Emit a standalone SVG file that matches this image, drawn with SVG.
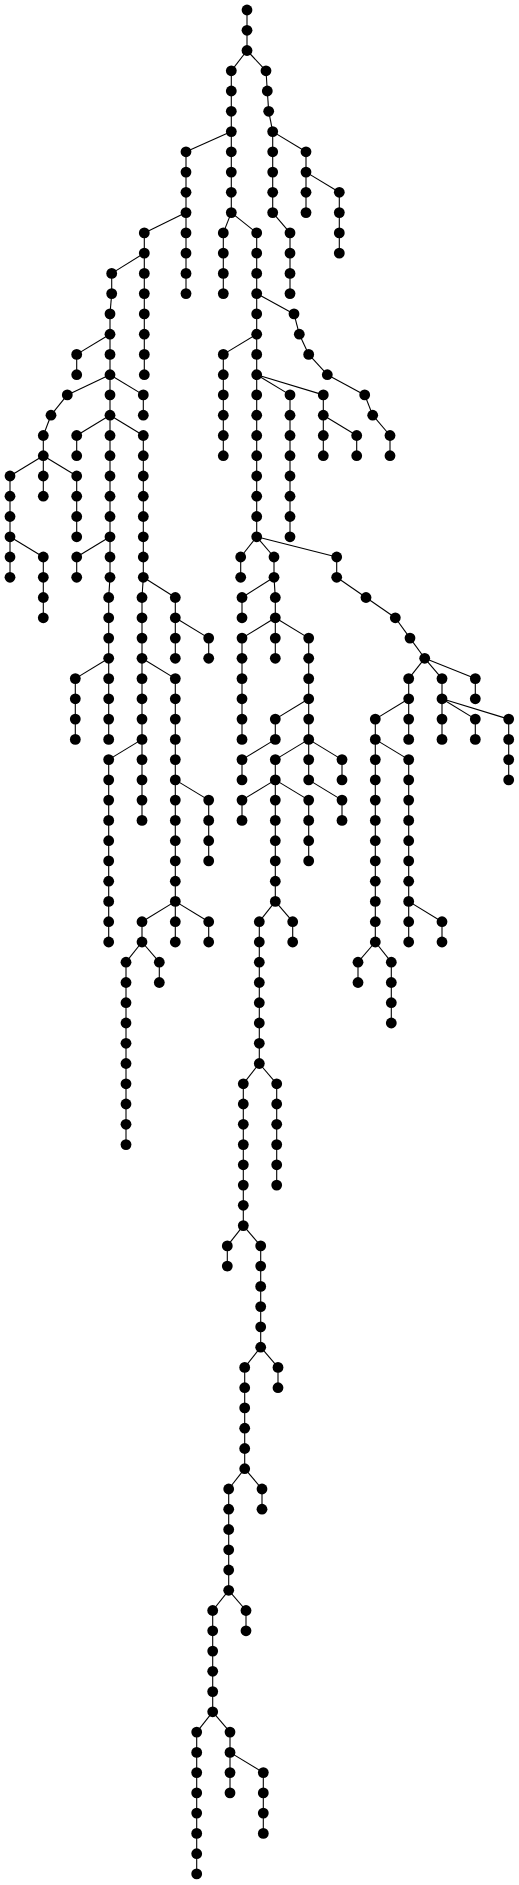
<svg xmlns="http://www.w3.org/2000/svg" width="519" height="1885" viewBox="0 0 519 1885">
<style>#edges path{stroke:#000;stroke-width:1.1;fill:none}#nodes circle{fill:#000}</style>
<rect width="519" height="1885" fill="#fff"/>
<g id="edges">
<path d="M247 10V50.5"/><path d="M231.3 70.8V212.6"/><path d="M272.7 131.6V212.6"/><path d="M290 232.9V293.6"/><path d="M306 151.8V212.6"/><path d="M339.3 192.3V253.1"/><path d="M186 151.8V293.6"/><path d="M144.3 232.9V374.7"/><path d="M111.7 273.4V293.6"/><path d="M110 313.9V577.3"/><path d="M76.7 354.4V374.7"/><path d="M43.3 435.5V496.2"/><path d="M143.3 394.9V415.2"/><path d="M10 476V577.3"/><path d="M76.7 476V536.8"/><path d="M43.3 557V617.8"/><path d="M76.7 435.5V455.7"/><path d="M143.3 435.5V577.3"/><path d="M76.7 557V577.3"/><path d="M108.7 597.5V739.4"/><path d="M142 597.5V820.4"/><path d="M175.3 597.5V658.3"/><path d="M208.7 638.1V658.3"/><path d="M75.3 678.6V739.4"/><path d="M175.3 678.6V942"/><path d="M108.7 759.6V942"/><path d="M208.7 800.1V860.9"/><path d="M142 921.7V942"/><path d="M208.7 921.7V942"/><path d="M126 962.2V1144.6"/><path d="M159.3 962.2V982.5"/><path d="M223.3 232.9V293.6"/><path d="M256.7 232.9V536.8"/><path d="M390 435.5V455.7"/><path d="M223.3 354.4V455.7"/><path d="M290 394.9V536.8"/><path d="M323.3 394.9V455.7"/><path d="M356.7 435.5V455.7"/><path d="M240.7 557V577.3"/><path d="M274 557V577.3"/><path d="M336.7 557V577.3"/><path d="M242 597.5V617.8"/><path d="M275.3 597.5V658.3"/><path d="M242 638.1V739.4"/><path d="M308.7 638.1V779.9"/><path d="M275.3 719.1V739.4"/><path d="M242 759.6V779.9"/><path d="M275.3 759.6V901.4"/><path d="M342 759.6V779.9"/><path d="M342 800.1V820.4"/><path d="M242 800.1V820.4"/><path d="M308.7 800.1V860.9"/><path d="M259.3 921.7V1063.5"/><path d="M292.7 921.7V942"/><path d="M243.3 1083.8V1225.6"/><path d="M276.7 1083.8V1185.1"/><path d="M227.3 1245.9V1266.1"/><path d="M260.7 1245.9V1347.2"/><path d="M244.7 1367.4V1468.7"/><path d="M278 1367.4V1387.7"/><path d="M228.7 1489V1590.3"/><path d="M262 1489V1509.2"/><path d="M212.7 1610.5V1711.8"/><path d="M246 1610.5V1630.8"/><path d="M196.7 1732.1V1873.9"/><path d="M230 1732.1V1792.9"/><path d="M263.3 1772.6V1833.4"/><path d="M408.7 678.6V739.4"/><path d="M442 678.6V739.4"/><path d="M475.3 678.6V698.8"/><path d="M375.3 719.1V942"/><path d="M475.3 719.1V739.4"/><path d="M508.7 719.1V779.9"/><path d="M408.7 759.6V942"/><path d="M442 921.7V942"/><path d="M358 962.2V982.5"/><path d="M391.3 962.2V1023"/>
<path d="M247 50.5L231.3 70.8"/><path d="M247 50.5L266 70.8"/><path d="M266 70.8L267.3 91"/><path d="M267.3 91L268.7 111.3"/><path d="M268.7 111.3L272.7 131.6"/><path d="M231.3 131.6L186 151.8"/><path d="M272.7 131.6L306 151.8"/><path d="M306 172.1L339.3 192.3"/><path d="M272.7 212.6L290 232.9"/><path d="M186 212.6L144.3 232.9"/><path d="M231.3 212.6L223.3 232.9"/><path d="M231.3 212.6L256.7 232.9"/><path d="M144.3 253.1L111.7 273.4"/><path d="M111.7 293.6L110 313.9"/><path d="M256.7 293.6L294 313.9"/><path d="M294 313.9L299.3 334.2"/><path d="M299.3 334.2L308.7 354.4"/><path d="M308.7 354.4L327.3 374.7"/><path d="M327.3 374.7L364.7 394.9"/><path d="M364.7 394.9L372.7 415.2"/><path d="M372.7 415.2L390 435.5"/><path d="M110 334.2L76.7 354.4"/><path d="M256.7 334.2L223.3 354.4"/><path d="M110 374.7L67.3 394.9"/><path d="M110 374.7L143.3 394.9"/><path d="M256.7 374.7L290 394.9"/><path d="M256.7 374.7L323.3 394.9"/><path d="M67.3 394.9L51 415.2"/><path d="M51 415.2L43.3 435.5"/><path d="M110 415.2L76.7 435.5"/><path d="M110 415.2L143.3 435.5"/><path d="M323.3 415.2L356.7 435.5"/><path d="M43.3 455.7L10 476"/><path d="M43.3 455.7L76.7 476"/><path d="M10 536.8L43.3 557"/><path d="M110 536.8L76.7 557"/><path d="M256.7 536.8L240.7 557"/><path d="M256.7 536.8L274 557"/><path d="M256.7 536.8L336.7 557"/><path d="M110 577.3L108.7 597.5"/><path d="M143.3 577.3L142 597.5"/><path d="M143.3 577.3L175.3 597.5"/><path d="M274 577.3L242 597.5"/><path d="M274 577.3L275.3 597.5"/><path d="M336.7 577.3L366 597.5"/><path d="M366 597.5L395.3 617.8"/><path d="M175.3 617.8L208.7 638.1"/><path d="M275.3 617.8L242 638.1"/><path d="M275.3 617.8L308.7 638.1"/><path d="M395.3 617.8L410 638.1"/><path d="M410 638.1L424.7 658.3"/><path d="M108.7 658.3L75.3 678.6"/><path d="M142 658.3L175.3 678.6"/><path d="M424.7 658.3L408.7 678.6"/><path d="M424.7 658.3L442 678.6"/><path d="M424.7 658.3L475.3 678.6"/><path d="M308.7 698.8L275.3 719.1"/><path d="M408.7 698.8L375.3 719.1"/><path d="M442 698.8L475.3 719.1"/><path d="M442 698.8L508.7 719.1"/><path d="M142 739.4L108.7 759.6"/><path d="M275.3 739.4L242 759.6"/><path d="M308.7 739.4L275.3 759.6"/><path d="M308.7 739.4L342 759.6"/><path d="M375.3 739.4L408.7 759.6"/><path d="M175.3 779.9L208.7 800.1"/><path d="M275.3 779.9L242 800.1"/><path d="M275.3 779.9L308.7 800.1"/><path d="M308.7 779.9L342 800.1"/><path d="M175.3 901.4L142 921.7"/><path d="M175.3 901.4L208.7 921.7"/><path d="M275.3 901.4L259.3 921.7"/><path d="M275.3 901.4L292.7 921.7"/><path d="M408.7 901.4L442 921.7"/><path d="M142 942L126 962.2"/><path d="M142 942L159.3 962.2"/><path d="M375.3 942L358 962.2"/><path d="M375.3 942L391.3 962.2"/><path d="M259.3 1063.5L243.3 1083.8"/><path d="M259.3 1063.5L276.7 1083.8"/><path d="M243.3 1225.6L227.3 1245.9"/><path d="M243.3 1225.6L260.7 1245.9"/><path d="M260.7 1347.2L244.7 1367.4"/><path d="M260.7 1347.2L278 1367.4"/><path d="M244.7 1468.7L228.7 1489"/><path d="M244.7 1468.7L262 1489"/><path d="M228.7 1590.3L212.7 1610.5"/><path d="M228.7 1590.3L246 1610.5"/><path d="M212.7 1711.8L196.7 1732.1"/><path d="M212.7 1711.8L230 1732.1"/><path d="M230 1752.4L263.3 1772.6"/>
</g>
<g id="nodes">
<g id="n1"><circle cx="247" cy="10" r="5.4"/></g>
<g id="n2"><circle cx="247" cy="30.3" r="5.4"/></g>
<g id="n3"><circle cx="247" cy="50.5" r="5.4"/></g>
<g id="n4"><circle cx="231.3" cy="70.8" r="5.4"/></g>
<g id="n5"><circle cx="231.3" cy="91" r="5.4"/></g>
<g id="n6"><circle cx="231.3" cy="111.3" r="5.4"/></g>
<g id="n7"><circle cx="231.3" cy="131.6" r="5.4"/></g>
<g id="n8"><circle cx="231.3" cy="151.8" r="5.4"/></g>
<g id="n9"><circle cx="231.3" cy="172.1" r="5.4"/></g>
<g id="n10"><circle cx="231.3" cy="192.3" r="5.4"/></g>
<g id="n11"><circle cx="231.3" cy="212.6" r="5.4"/></g>
<g id="n12"><circle cx="266" cy="70.8" r="5.4"/></g>
<g id="n13"><circle cx="267.3" cy="91" r="5.4"/></g>
<g id="n14"><circle cx="268.7" cy="111.3" r="5.4"/></g>
<g id="n15"><circle cx="272.7" cy="131.6" r="5.4"/></g>
<g id="n16"><circle cx="272.7" cy="151.8" r="5.4"/></g>
<g id="n17"><circle cx="272.7" cy="172.1" r="5.4"/></g>
<g id="n18"><circle cx="272.7" cy="192.3" r="5.4"/></g>
<g id="n19"><circle cx="272.7" cy="212.6" r="5.4"/></g>
<g id="n20"><circle cx="290" cy="232.9" r="5.4"/></g>
<g id="n21"><circle cx="290" cy="253.1" r="5.4"/></g>
<g id="n22"><circle cx="290" cy="273.4" r="5.4"/></g>
<g id="n23"><circle cx="290" cy="293.6" r="5.4"/></g>
<g id="n24"><circle cx="306" cy="151.8" r="5.4"/></g>
<g id="n25"><circle cx="306" cy="172.1" r="5.4"/></g>
<g id="n26"><circle cx="306" cy="192.3" r="5.4"/></g>
<g id="n27"><circle cx="306" cy="212.6" r="5.4"/></g>
<g id="n28"><circle cx="339.3" cy="192.3" r="5.4"/></g>
<g id="n29"><circle cx="339.3" cy="212.6" r="5.4"/></g>
<g id="n30"><circle cx="339.3" cy="232.9" r="5.4"/></g>
<g id="n31"><circle cx="339.3" cy="253.1" r="5.4"/></g>
<g id="n32"><circle cx="186" cy="151.8" r="5.4"/></g>
<g id="n33"><circle cx="186" cy="172.1" r="5.4"/></g>
<g id="n34"><circle cx="186" cy="192.3" r="5.4"/></g>
<g id="n35"><circle cx="186" cy="212.6" r="5.4"/></g>
<g id="n36"><circle cx="186" cy="232.9" r="5.4"/></g>
<g id="n37"><circle cx="186" cy="253.1" r="5.4"/></g>
<g id="n38"><circle cx="186" cy="273.4" r="5.4"/></g>
<g id="n39"><circle cx="186" cy="293.6" r="5.4"/></g>
<g id="n40"><circle cx="144.3" cy="232.9" r="5.4"/></g>
<g id="n41"><circle cx="144.3" cy="253.1" r="5.4"/></g>
<g id="n42"><circle cx="144.3" cy="273.4" r="5.4"/></g>
<g id="n43"><circle cx="144.3" cy="293.6" r="5.4"/></g>
<g id="n44"><circle cx="144.3" cy="313.9" r="5.4"/></g>
<g id="n45"><circle cx="144.3" cy="334.2" r="5.4"/></g>
<g id="n46"><circle cx="144.3" cy="354.4" r="5.4"/></g>
<g id="n47"><circle cx="144.3" cy="374.7" r="5.4"/></g>
<g id="n48"><circle cx="111.7" cy="273.4" r="5.4"/></g>
<g id="n49"><circle cx="111.7" cy="293.6" r="5.4"/></g>
<g id="n50"><circle cx="110" cy="313.9" r="5.4"/></g>
<g id="n51"><circle cx="110" cy="334.2" r="5.4"/></g>
<g id="n52"><circle cx="110" cy="354.4" r="5.4"/></g>
<g id="n53"><circle cx="110" cy="374.7" r="5.4"/></g>
<g id="n54"><circle cx="110" cy="394.9" r="5.4"/></g>
<g id="n55"><circle cx="110" cy="415.2" r="5.4"/></g>
<g id="n56"><circle cx="110" cy="435.5" r="5.4"/></g>
<g id="n57"><circle cx="110" cy="455.7" r="5.4"/></g>
<g id="n58"><circle cx="110" cy="476" r="5.4"/></g>
<g id="n59"><circle cx="110" cy="496.2" r="5.4"/></g>
<g id="n60"><circle cx="110" cy="516.5" r="5.4"/></g>
<g id="n61"><circle cx="110" cy="536.8" r="5.4"/></g>
<g id="n62"><circle cx="110" cy="557" r="5.4"/></g>
<g id="n63"><circle cx="110" cy="577.3" r="5.4"/></g>
<g id="n64"><circle cx="76.7" cy="354.4" r="5.4"/></g>
<g id="n65"><circle cx="76.7" cy="374.7" r="5.4"/></g>
<g id="n66"><circle cx="67.3" cy="394.9" r="5.4"/></g>
<g id="n67"><circle cx="51" cy="415.2" r="5.4"/></g>
<g id="n68"><circle cx="43.3" cy="435.5" r="5.4"/></g>
<g id="n69"><circle cx="43.3" cy="455.7" r="5.4"/></g>
<g id="n70"><circle cx="43.3" cy="476" r="5.4"/></g>
<g id="n71"><circle cx="43.3" cy="496.2" r="5.4"/></g>
<g id="n72"><circle cx="143.3" cy="394.9" r="5.4"/></g>
<g id="n73"><circle cx="143.3" cy="415.2" r="5.4"/></g>
<g id="n74"><circle cx="10" cy="476" r="5.4"/></g>
<g id="n75"><circle cx="10" cy="496.2" r="5.4"/></g>
<g id="n76"><circle cx="10" cy="516.5" r="5.4"/></g>
<g id="n77"><circle cx="10" cy="536.8" r="5.4"/></g>
<g id="n78"><circle cx="10" cy="557" r="5.4"/></g>
<g id="n79"><circle cx="10" cy="577.3" r="5.4"/></g>
<g id="n80"><circle cx="76.7" cy="476" r="5.4"/></g>
<g id="n81"><circle cx="76.7" cy="496.2" r="5.4"/></g>
<g id="n82"><circle cx="76.7" cy="516.5" r="5.4"/></g>
<g id="n83"><circle cx="76.7" cy="536.8" r="5.4"/></g>
<g id="n84"><circle cx="43.3" cy="557" r="5.4"/></g>
<g id="n85"><circle cx="43.3" cy="577.3" r="5.4"/></g>
<g id="n86"><circle cx="43.3" cy="597.5" r="5.4"/></g>
<g id="n87"><circle cx="43.3" cy="617.8" r="5.4"/></g>
<g id="n88"><circle cx="76.7" cy="435.5" r="5.4"/></g>
<g id="n89"><circle cx="76.7" cy="455.7" r="5.4"/></g>
<g id="n90"><circle cx="143.3" cy="435.5" r="5.4"/></g>
<g id="n91"><circle cx="143.3" cy="455.7" r="5.4"/></g>
<g id="n92"><circle cx="143.3" cy="476" r="5.4"/></g>
<g id="n93"><circle cx="143.3" cy="496.2" r="5.4"/></g>
<g id="n94"><circle cx="143.3" cy="516.5" r="5.4"/></g>
<g id="n95"><circle cx="143.3" cy="536.8" r="5.4"/></g>
<g id="n96"><circle cx="143.3" cy="557" r="5.4"/></g>
<g id="n97"><circle cx="143.3" cy="577.3" r="5.4"/></g>
<g id="n98"><circle cx="76.7" cy="557" r="5.4"/></g>
<g id="n99"><circle cx="76.7" cy="577.3" r="5.4"/></g>
<g id="n100"><circle cx="108.7" cy="597.5" r="5.4"/></g>
<g id="n101"><circle cx="108.7" cy="617.8" r="5.4"/></g>
<g id="n102"><circle cx="108.7" cy="638.1" r="5.4"/></g>
<g id="n103"><circle cx="108.7" cy="658.3" r="5.4"/></g>
<g id="n104"><circle cx="108.7" cy="678.6" r="5.4"/></g>
<g id="n105"><circle cx="108.7" cy="698.8" r="5.4"/></g>
<g id="n106"><circle cx="108.7" cy="719.1" r="5.4"/></g>
<g id="n107"><circle cx="108.7" cy="739.4" r="5.4"/></g>
<g id="n108"><circle cx="142" cy="597.5" r="5.4"/></g>
<g id="n109"><circle cx="142" cy="617.8" r="5.4"/></g>
<g id="n110"><circle cx="142" cy="638.1" r="5.4"/></g>
<g id="n111"><circle cx="142" cy="658.3" r="5.4"/></g>
<g id="n112"><circle cx="142" cy="678.6" r="5.4"/></g>
<g id="n113"><circle cx="142" cy="698.8" r="5.4"/></g>
<g id="n114"><circle cx="142" cy="719.1" r="5.4"/></g>
<g id="n115"><circle cx="142" cy="739.4" r="5.4"/></g>
<g id="n116"><circle cx="142" cy="759.6" r="5.4"/></g>
<g id="n117"><circle cx="142" cy="779.9" r="5.4"/></g>
<g id="n118"><circle cx="142" cy="800.1" r="5.4"/></g>
<g id="n119"><circle cx="142" cy="820.4" r="5.4"/></g>
<g id="n120"><circle cx="175.3" cy="597.5" r="5.4"/></g>
<g id="n121"><circle cx="175.3" cy="617.8" r="5.4"/></g>
<g id="n122"><circle cx="175.3" cy="638.1" r="5.4"/></g>
<g id="n123"><circle cx="175.3" cy="658.3" r="5.4"/></g>
<g id="n124"><circle cx="208.7" cy="638.1" r="5.4"/></g>
<g id="n125"><circle cx="208.7" cy="658.3" r="5.4"/></g>
<g id="n126"><circle cx="75.3" cy="678.6" r="5.4"/></g>
<g id="n127"><circle cx="75.3" cy="698.8" r="5.4"/></g>
<g id="n128"><circle cx="75.3" cy="719.1" r="5.4"/></g>
<g id="n129"><circle cx="75.3" cy="739.4" r="5.4"/></g>
<g id="n130"><circle cx="175.3" cy="678.6" r="5.4"/></g>
<g id="n131"><circle cx="175.3" cy="698.8" r="5.4"/></g>
<g id="n132"><circle cx="175.3" cy="719.1" r="5.4"/></g>
<g id="n133"><circle cx="175.3" cy="739.4" r="5.4"/></g>
<g id="n134"><circle cx="175.3" cy="759.6" r="5.4"/></g>
<g id="n135"><circle cx="175.3" cy="779.9" r="5.4"/></g>
<g id="n136"><circle cx="175.3" cy="800.1" r="5.4"/></g>
<g id="n137"><circle cx="175.3" cy="820.4" r="5.4"/></g>
<g id="n138"><circle cx="175.3" cy="840.7" r="5.4"/></g>
<g id="n139"><circle cx="175.3" cy="860.9" r="5.4"/></g>
<g id="n140"><circle cx="175.3" cy="881.2" r="5.4"/></g>
<g id="n141"><circle cx="175.3" cy="901.4" r="5.4"/></g>
<g id="n142"><circle cx="175.3" cy="921.7" r="5.4"/></g>
<g id="n143"><circle cx="175.3" cy="942" r="5.4"/></g>
<g id="n144"><circle cx="108.7" cy="759.6" r="5.4"/></g>
<g id="n145"><circle cx="108.7" cy="779.9" r="5.4"/></g>
<g id="n146"><circle cx="108.7" cy="800.1" r="5.4"/></g>
<g id="n147"><circle cx="108.7" cy="820.4" r="5.4"/></g>
<g id="n148"><circle cx="108.7" cy="840.7" r="5.4"/></g>
<g id="n149"><circle cx="108.7" cy="860.9" r="5.4"/></g>
<g id="n150"><circle cx="108.7" cy="881.2" r="5.4"/></g>
<g id="n151"><circle cx="108.7" cy="901.4" r="5.4"/></g>
<g id="n152"><circle cx="108.7" cy="921.7" r="5.4"/></g>
<g id="n153"><circle cx="108.7" cy="942" r="5.4"/></g>
<g id="n154"><circle cx="208.7" cy="800.1" r="5.4"/></g>
<g id="n155"><circle cx="208.7" cy="820.4" r="5.4"/></g>
<g id="n156"><circle cx="208.7" cy="840.7" r="5.4"/></g>
<g id="n157"><circle cx="208.7" cy="860.9" r="5.4"/></g>
<g id="n158"><circle cx="142" cy="921.7" r="5.4"/></g>
<g id="n159"><circle cx="142" cy="942" r="5.4"/></g>
<g id="n160"><circle cx="208.7" cy="921.7" r="5.4"/></g>
<g id="n161"><circle cx="208.7" cy="942" r="5.4"/></g>
<g id="n162"><circle cx="126" cy="962.2" r="5.4"/></g>
<g id="n163"><circle cx="126" cy="982.5" r="5.4"/></g>
<g id="n164"><circle cx="126" cy="1002.7" r="5.4"/></g>
<g id="n165"><circle cx="126" cy="1023" r="5.4"/></g>
<g id="n166"><circle cx="126" cy="1043.3" r="5.4"/></g>
<g id="n167"><circle cx="126" cy="1063.5" r="5.4"/></g>
<g id="n168"><circle cx="126" cy="1083.8" r="5.4"/></g>
<g id="n169"><circle cx="126" cy="1104" r="5.4"/></g>
<g id="n170"><circle cx="126" cy="1124.3" r="5.4"/></g>
<g id="n171"><circle cx="126" cy="1144.6" r="5.4"/></g>
<g id="n172"><circle cx="159.3" cy="962.2" r="5.4"/></g>
<g id="n173"><circle cx="159.3" cy="982.5" r="5.4"/></g>
<g id="n174"><circle cx="223.3" cy="232.9" r="5.4"/></g>
<g id="n175"><circle cx="223.3" cy="253.1" r="5.4"/></g>
<g id="n176"><circle cx="223.3" cy="273.4" r="5.4"/></g>
<g id="n177"><circle cx="223.3" cy="293.6" r="5.4"/></g>
<g id="n178"><circle cx="256.7" cy="232.9" r="5.4"/></g>
<g id="n179"><circle cx="256.7" cy="253.1" r="5.4"/></g>
<g id="n180"><circle cx="256.7" cy="273.4" r="5.4"/></g>
<g id="n181"><circle cx="256.7" cy="293.6" r="5.4"/></g>
<g id="n182"><circle cx="256.7" cy="313.9" r="5.4"/></g>
<g id="n183"><circle cx="256.7" cy="334.2" r="5.4"/></g>
<g id="n184"><circle cx="256.7" cy="354.4" r="5.4"/></g>
<g id="n185"><circle cx="256.7" cy="374.7" r="5.4"/></g>
<g id="n186"><circle cx="256.7" cy="394.9" r="5.4"/></g>
<g id="n187"><circle cx="256.7" cy="415.2" r="5.4"/></g>
<g id="n188"><circle cx="256.7" cy="435.5" r="5.4"/></g>
<g id="n189"><circle cx="256.7" cy="455.7" r="5.4"/></g>
<g id="n190"><circle cx="256.7" cy="476" r="5.4"/></g>
<g id="n191"><circle cx="256.7" cy="496.2" r="5.4"/></g>
<g id="n192"><circle cx="256.7" cy="516.5" r="5.4"/></g>
<g id="n193"><circle cx="256.7" cy="536.8" r="5.4"/></g>
<g id="n194"><circle cx="294" cy="313.9" r="5.4"/></g>
<g id="n195"><circle cx="299.3" cy="334.2" r="5.4"/></g>
<g id="n196"><circle cx="308.7" cy="354.4" r="5.4"/></g>
<g id="n197"><circle cx="327.3" cy="374.7" r="5.4"/></g>
<g id="n198"><circle cx="364.7" cy="394.9" r="5.4"/></g>
<g id="n199"><circle cx="372.7" cy="415.2" r="5.4"/></g>
<g id="n200"><circle cx="390" cy="435.5" r="5.4"/></g>
<g id="n201"><circle cx="390" cy="455.7" r="5.4"/></g>
<g id="n202"><circle cx="223.3" cy="354.4" r="5.4"/></g>
<g id="n203"><circle cx="223.3" cy="374.7" r="5.4"/></g>
<g id="n204"><circle cx="223.3" cy="394.9" r="5.4"/></g>
<g id="n205"><circle cx="223.3" cy="415.2" r="5.4"/></g>
<g id="n206"><circle cx="223.3" cy="435.5" r="5.4"/></g>
<g id="n207"><circle cx="223.3" cy="455.7" r="5.4"/></g>
<g id="n208"><circle cx="290" cy="394.9" r="5.4"/></g>
<g id="n209"><circle cx="290" cy="415.2" r="5.4"/></g>
<g id="n210"><circle cx="290" cy="435.5" r="5.4"/></g>
<g id="n211"><circle cx="290" cy="455.7" r="5.4"/></g>
<g id="n212"><circle cx="290" cy="476" r="5.4"/></g>
<g id="n213"><circle cx="290" cy="496.2" r="5.4"/></g>
<g id="n214"><circle cx="290" cy="516.5" r="5.4"/></g>
<g id="n215"><circle cx="290" cy="536.8" r="5.4"/></g>
<g id="n216"><circle cx="323.3" cy="394.9" r="5.4"/></g>
<g id="n217"><circle cx="323.3" cy="415.2" r="5.4"/></g>
<g id="n218"><circle cx="323.3" cy="435.5" r="5.4"/></g>
<g id="n219"><circle cx="323.3" cy="455.7" r="5.4"/></g>
<g id="n220"><circle cx="356.7" cy="435.5" r="5.4"/></g>
<g id="n221"><circle cx="356.7" cy="455.7" r="5.4"/></g>
<g id="n222"><circle cx="240.7" cy="557" r="5.4"/></g>
<g id="n223"><circle cx="240.7" cy="577.3" r="5.4"/></g>
<g id="n224"><circle cx="274" cy="557" r="5.4"/></g>
<g id="n225"><circle cx="274" cy="577.3" r="5.4"/></g>
<g id="n226"><circle cx="336.7" cy="557" r="5.4"/></g>
<g id="n227"><circle cx="336.7" cy="577.3" r="5.4"/></g>
<g id="n228"><circle cx="242" cy="597.5" r="5.4"/></g>
<g id="n229"><circle cx="242" cy="617.8" r="5.4"/></g>
<g id="n230"><circle cx="275.3" cy="597.5" r="5.4"/></g>
<g id="n231"><circle cx="275.3" cy="617.8" r="5.4"/></g>
<g id="n232"><circle cx="275.3" cy="638.1" r="5.4"/></g>
<g id="n233"><circle cx="275.3" cy="658.3" r="5.4"/></g>
<g id="n234"><circle cx="242" cy="638.1" r="5.4"/></g>
<g id="n235"><circle cx="242" cy="658.3" r="5.4"/></g>
<g id="n236"><circle cx="242" cy="678.6" r="5.4"/></g>
<g id="n237"><circle cx="242" cy="698.8" r="5.4"/></g>
<g id="n238"><circle cx="242" cy="719.1" r="5.4"/></g>
<g id="n239"><circle cx="242" cy="739.4" r="5.4"/></g>
<g id="n240"><circle cx="308.7" cy="638.1" r="5.4"/></g>
<g id="n241"><circle cx="308.7" cy="658.3" r="5.4"/></g>
<g id="n242"><circle cx="308.7" cy="678.6" r="5.4"/></g>
<g id="n243"><circle cx="308.7" cy="698.8" r="5.4"/></g>
<g id="n244"><circle cx="308.7" cy="719.1" r="5.4"/></g>
<g id="n245"><circle cx="308.7" cy="739.4" r="5.4"/></g>
<g id="n246"><circle cx="308.7" cy="759.6" r="5.4"/></g>
<g id="n247"><circle cx="308.7" cy="779.9" r="5.4"/></g>
<g id="n248"><circle cx="275.3" cy="719.1" r="5.4"/></g>
<g id="n249"><circle cx="275.3" cy="739.4" r="5.4"/></g>
<g id="n250"><circle cx="242" cy="759.6" r="5.4"/></g>
<g id="n251"><circle cx="242" cy="779.9" r="5.4"/></g>
<g id="n252"><circle cx="275.3" cy="759.6" r="5.4"/></g>
<g id="n253"><circle cx="275.3" cy="779.9" r="5.4"/></g>
<g id="n254"><circle cx="275.3" cy="800.1" r="5.4"/></g>
<g id="n255"><circle cx="275.3" cy="820.4" r="5.4"/></g>
<g id="n256"><circle cx="275.3" cy="840.7" r="5.4"/></g>
<g id="n257"><circle cx="275.3" cy="860.9" r="5.4"/></g>
<g id="n258"><circle cx="275.3" cy="881.2" r="5.4"/></g>
<g id="n259"><circle cx="275.3" cy="901.4" r="5.4"/></g>
<g id="n260"><circle cx="342" cy="759.6" r="5.4"/></g>
<g id="n261"><circle cx="342" cy="779.9" r="5.4"/></g>
<g id="n262"><circle cx="342" cy="800.1" r="5.4"/></g>
<g id="n263"><circle cx="342" cy="820.4" r="5.4"/></g>
<g id="n264"><circle cx="242" cy="800.1" r="5.4"/></g>
<g id="n265"><circle cx="242" cy="820.4" r="5.4"/></g>
<g id="n266"><circle cx="308.7" cy="800.1" r="5.4"/></g>
<g id="n267"><circle cx="308.7" cy="820.4" r="5.4"/></g>
<g id="n268"><circle cx="308.7" cy="840.7" r="5.4"/></g>
<g id="n269"><circle cx="308.7" cy="860.9" r="5.4"/></g>
<g id="n270"><circle cx="259.3" cy="921.7" r="5.4"/></g>
<g id="n271"><circle cx="259.3" cy="942" r="5.4"/></g>
<g id="n272"><circle cx="259.3" cy="962.2" r="5.4"/></g>
<g id="n273"><circle cx="259.3" cy="982.5" r="5.4"/></g>
<g id="n274"><circle cx="259.3" cy="1002.7" r="5.4"/></g>
<g id="n275"><circle cx="259.3" cy="1023" r="5.4"/></g>
<g id="n276"><circle cx="259.3" cy="1043.3" r="5.4"/></g>
<g id="n277"><circle cx="259.3" cy="1063.5" r="5.4"/></g>
<g id="n278"><circle cx="292.7" cy="921.7" r="5.4"/></g>
<g id="n279"><circle cx="292.7" cy="942" r="5.4"/></g>
<g id="n280"><circle cx="243.3" cy="1083.8" r="5.4"/></g>
<g id="n281"><circle cx="243.3" cy="1104" r="5.4"/></g>
<g id="n282"><circle cx="243.3" cy="1124.3" r="5.4"/></g>
<g id="n283"><circle cx="243.3" cy="1144.6" r="5.4"/></g>
<g id="n284"><circle cx="243.3" cy="1164.8" r="5.4"/></g>
<g id="n285"><circle cx="243.3" cy="1185.1" r="5.4"/></g>
<g id="n286"><circle cx="243.3" cy="1205.3" r="5.4"/></g>
<g id="n287"><circle cx="243.3" cy="1225.6" r="5.4"/></g>
<g id="n288"><circle cx="276.7" cy="1083.8" r="5.4"/></g>
<g id="n289"><circle cx="276.7" cy="1104" r="5.4"/></g>
<g id="n290"><circle cx="276.7" cy="1124.3" r="5.4"/></g>
<g id="n291"><circle cx="276.7" cy="1144.6" r="5.4"/></g>
<g id="n292"><circle cx="276.7" cy="1164.8" r="5.4"/></g>
<g id="n293"><circle cx="276.7" cy="1185.1" r="5.4"/></g>
<g id="n294"><circle cx="227.3" cy="1245.9" r="5.4"/></g>
<g id="n295"><circle cx="227.3" cy="1266.1" r="5.4"/></g>
<g id="n296"><circle cx="260.7" cy="1245.9" r="5.4"/></g>
<g id="n297"><circle cx="260.7" cy="1266.1" r="5.4"/></g>
<g id="n298"><circle cx="260.7" cy="1286.4" r="5.4"/></g>
<g id="n299"><circle cx="260.7" cy="1306.6" r="5.4"/></g>
<g id="n300"><circle cx="260.7" cy="1326.9" r="5.4"/></g>
<g id="n301"><circle cx="260.7" cy="1347.2" r="5.4"/></g>
<g id="n302"><circle cx="244.7" cy="1367.4" r="5.4"/></g>
<g id="n303"><circle cx="244.7" cy="1387.7" r="5.4"/></g>
<g id="n304"><circle cx="244.7" cy="1407.9" r="5.4"/></g>
<g id="n305"><circle cx="244.7" cy="1428.2" r="5.4"/></g>
<g id="n306"><circle cx="244.7" cy="1448.5" r="5.4"/></g>
<g id="n307"><circle cx="244.7" cy="1468.7" r="5.4"/></g>
<g id="n308"><circle cx="278" cy="1367.4" r="5.4"/></g>
<g id="n309"><circle cx="278" cy="1387.7" r="5.4"/></g>
<g id="n310"><circle cx="228.7" cy="1489" r="5.4"/></g>
<g id="n311"><circle cx="228.7" cy="1509.2" r="5.4"/></g>
<g id="n312"><circle cx="228.7" cy="1529.5" r="5.4"/></g>
<g id="n313"><circle cx="228.7" cy="1549.8" r="5.4"/></g>
<g id="n314"><circle cx="228.7" cy="1570" r="5.4"/></g>
<g id="n315"><circle cx="228.7" cy="1590.3" r="5.4"/></g>
<g id="n316"><circle cx="262" cy="1489" r="5.4"/></g>
<g id="n317"><circle cx="262" cy="1509.2" r="5.4"/></g>
<g id="n318"><circle cx="212.7" cy="1610.5" r="5.4"/></g>
<g id="n319"><circle cx="212.7" cy="1630.8" r="5.4"/></g>
<g id="n320"><circle cx="212.7" cy="1651.1" r="5.4"/></g>
<g id="n321"><circle cx="212.7" cy="1671.3" r="5.4"/></g>
<g id="n322"><circle cx="212.7" cy="1691.6" r="5.4"/></g>
<g id="n323"><circle cx="212.7" cy="1711.8" r="5.4"/></g>
<g id="n324"><circle cx="246" cy="1610.5" r="5.4"/></g>
<g id="n325"><circle cx="246" cy="1630.8" r="5.4"/></g>
<g id="n326"><circle cx="196.7" cy="1732.1" r="5.4"/></g>
<g id="n327"><circle cx="196.7" cy="1752.4" r="5.4"/></g>
<g id="n328"><circle cx="196.7" cy="1772.6" r="5.4"/></g>
<g id="n329"><circle cx="196.7" cy="1792.9" r="5.4"/></g>
<g id="n330"><circle cx="196.7" cy="1813.1" r="5.4"/></g>
<g id="n331"><circle cx="196.7" cy="1833.4" r="5.4"/></g>
<g id="n332"><circle cx="196.7" cy="1853.7" r="5.4"/></g>
<g id="n333"><circle cx="196.7" cy="1873.9" r="5.4"/></g>
<g id="n334"><circle cx="230" cy="1732.1" r="5.4"/></g>
<g id="n335"><circle cx="230" cy="1752.4" r="5.4"/></g>
<g id="n336"><circle cx="230" cy="1772.6" r="5.4"/></g>
<g id="n337"><circle cx="230" cy="1792.9" r="5.4"/></g>
<g id="n338"><circle cx="263.3" cy="1772.6" r="5.4"/></g>
<g id="n339"><circle cx="263.3" cy="1792.9" r="5.4"/></g>
<g id="n340"><circle cx="263.3" cy="1813.1" r="5.4"/></g>
<g id="n341"><circle cx="263.3" cy="1833.4" r="5.4"/></g>
<g id="n342"><circle cx="366" cy="597.5" r="5.4"/></g>
<g id="n343"><circle cx="395.3" cy="617.8" r="5.4"/></g>
<g id="n344"><circle cx="410" cy="638.1" r="5.4"/></g>
<g id="n345"><circle cx="424.7" cy="658.3" r="5.4"/></g>
<g id="n346"><circle cx="408.7" cy="678.6" r="5.4"/></g>
<g id="n347"><circle cx="408.7" cy="698.8" r="5.4"/></g>
<g id="n348"><circle cx="408.7" cy="719.1" r="5.4"/></g>
<g id="n349"><circle cx="408.7" cy="739.4" r="5.4"/></g>
<g id="n350"><circle cx="442" cy="678.6" r="5.4"/></g>
<g id="n351"><circle cx="442" cy="698.8" r="5.4"/></g>
<g id="n352"><circle cx="442" cy="719.1" r="5.4"/></g>
<g id="n353"><circle cx="442" cy="739.4" r="5.4"/></g>
<g id="n354"><circle cx="475.3" cy="678.6" r="5.4"/></g>
<g id="n355"><circle cx="475.3" cy="698.8" r="5.4"/></g>
<g id="n356"><circle cx="375.3" cy="719.1" r="5.4"/></g>
<g id="n357"><circle cx="375.3" cy="739.4" r="5.4"/></g>
<g id="n358"><circle cx="375.3" cy="759.6" r="5.4"/></g>
<g id="n359"><circle cx="375.3" cy="779.9" r="5.4"/></g>
<g id="n360"><circle cx="375.3" cy="800.1" r="5.4"/></g>
<g id="n361"><circle cx="375.3" cy="820.4" r="5.4"/></g>
<g id="n362"><circle cx="375.3" cy="840.7" r="5.4"/></g>
<g id="n363"><circle cx="375.3" cy="860.9" r="5.4"/></g>
<g id="n364"><circle cx="375.3" cy="881.2" r="5.4"/></g>
<g id="n365"><circle cx="375.3" cy="901.4" r="5.4"/></g>
<g id="n366"><circle cx="375.3" cy="921.7" r="5.4"/></g>
<g id="n367"><circle cx="375.3" cy="942" r="5.4"/></g>
<g id="n368"><circle cx="475.3" cy="719.1" r="5.4"/></g>
<g id="n369"><circle cx="475.3" cy="739.4" r="5.4"/></g>
<g id="n370"><circle cx="508.7" cy="719.1" r="5.4"/></g>
<g id="n371"><circle cx="508.7" cy="739.4" r="5.4"/></g>
<g id="n372"><circle cx="508.7" cy="759.6" r="5.4"/></g>
<g id="n373"><circle cx="508.7" cy="779.9" r="5.4"/></g>
<g id="n374"><circle cx="408.7" cy="759.6" r="5.4"/></g>
<g id="n375"><circle cx="408.7" cy="779.9" r="5.4"/></g>
<g id="n376"><circle cx="408.7" cy="800.1" r="5.4"/></g>
<g id="n377"><circle cx="408.7" cy="820.4" r="5.4"/></g>
<g id="n378"><circle cx="408.7" cy="840.7" r="5.4"/></g>
<g id="n379"><circle cx="408.7" cy="860.9" r="5.4"/></g>
<g id="n380"><circle cx="408.7" cy="881.2" r="5.4"/></g>
<g id="n381"><circle cx="408.7" cy="901.4" r="5.4"/></g>
<g id="n382"><circle cx="408.7" cy="921.7" r="5.4"/></g>
<g id="n383"><circle cx="408.7" cy="942" r="5.4"/></g>
<g id="n384"><circle cx="442" cy="921.7" r="5.4"/></g>
<g id="n385"><circle cx="442" cy="942" r="5.4"/></g>
<g id="n386"><circle cx="358" cy="962.2" r="5.4"/></g>
<g id="n387"><circle cx="358" cy="982.5" r="5.4"/></g>
<g id="n388"><circle cx="391.3" cy="962.2" r="5.4"/></g>
<g id="n389"><circle cx="391.3" cy="982.5" r="5.4"/></g>
<g id="n390"><circle cx="391.3" cy="1002.7" r="5.4"/></g>
<g id="n391"><circle cx="391.3" cy="1023" r="5.4"/></g>
</g>
</svg>
